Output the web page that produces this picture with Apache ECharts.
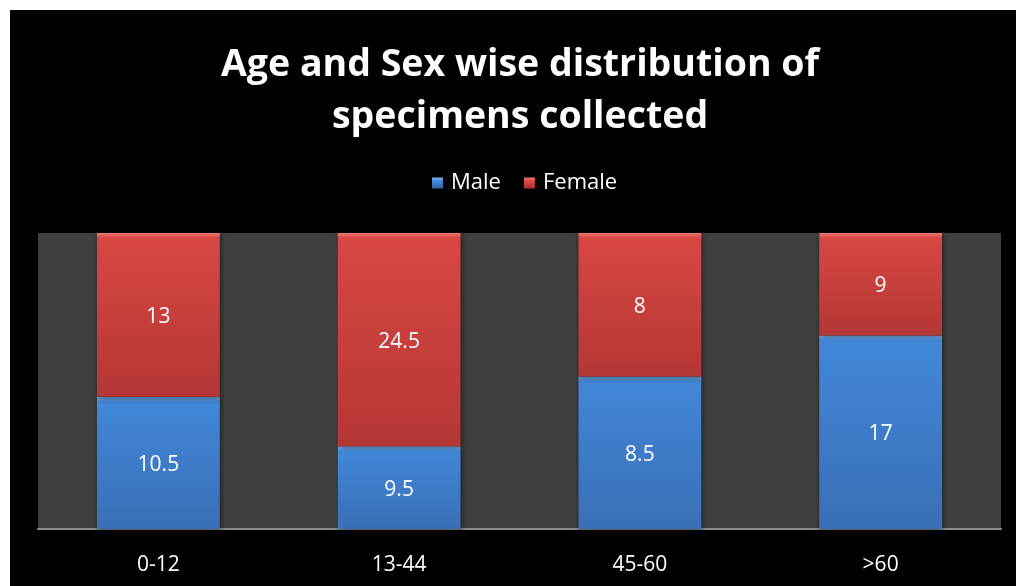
<!DOCTYPE html>
<html>
<head>
<meta charset="utf-8">
<script src="https://cdn.jsdelivr.net/npm/echarts@6/dist/echarts.min.js"></script>
<style>
  html, body { margin: 0; padding: 0; background: #ffffff; }
  #chart { position: absolute; left: 10px; top: 10px; width: 1006px; height: 576px; background: #000000; }
</style>
</head>
<body>
<div id="chart"></div>
<script>
// Age groups and counts per sex
const ageGroups = ['0-12', '13-44', '45-60', '>60'];
const maleValues = [10.5, 9.5, 8.5, 17];
const femaleValues = [13, 24.5, 8, 9];

const fontFamily = '"Open Sans", "Noto Sans", sans-serif';
const plotHeight = 296;

// Bevelled fill: a bright rim of a few pixels at the top, then a soft vertical shade
function bevelFill(share, rim, top, bottom) {
  const px = share / 100 * plotHeight;
  const b = Math.min(0.3, 5 / px);
  return new echarts.graphic.LinearGradient(0, 0, 0, 1, [
    { offset: 0, color: rim },
    { offset: b, color: top },
    { offset: 1, color: bottom }
  ]);
}

// Each column is shown as a 100% stack; labels keep the raw values
const totals = ageGroups.map((_, i) => maleValues[i] + femaleValues[i]);
function toShare(arr, rim, top, bottom) {
  return arr.map((v, i) => {
    const share = v / totals[i] * 100;
    return { value: share, raw: v, itemStyle: { color: bevelFill(share, rim, top, bottom) } };
  });
}

const barShadow = {
  shadowColor: 'rgba(0,0,0,0.55)',
  shadowBlur: 6,
  shadowOffsetX: 1,
  shadowOffsetY: 1
};

const labelStyle = {
  show: true,
  position: 'inside',
  offset: [0, 2],
  color: '#ffffff',
  fontFamily: fontFamily,
  fontSize: 21,
  formatter: (p) => p.data.raw
};

const chart = echarts.init(document.getElementById('chart'));
chart.setOption({
  backgroundColor: '#000000',
  animation: false,
  title: {
    text: 'Age and Sex wise distribution of\nspecimens collected',
    left: 505,
    textAlign: 'center',
    top: 24,
    textStyle: {
      color: '#ffffff',
      fontFamily: fontFamily,
      fontWeight: 'bold',
      fontSize: 37.5,
      lineHeight: 52
    }
  },
  legend: {
    top: 162,
    left: 422,
    padding: 0,
    itemWidth: 11,
    itemHeight: 11,
    itemGap: 23,
    icon: 'rect',
    textStyle: { color: '#ffffff', fontFamily: fontFamily, fontSize: 22, padding: [0, 0, 0, 3] },
    data: [
      { name: 'Male', itemStyle: { color: new echarts.graphic.LinearGradient(0, 0, 0, 1, [{ offset: 0, color: '#7ab4f0' }, { offset: 0.35, color: '#4186d8' }, { offset: 1, color: '#33649f' }]) } },
      { name: 'Female', itemStyle: { color: new echarts.graphic.LinearGradient(0, 0, 0, 1, [{ offset: 0, color: '#f07470' }, { offset: 0.35, color: '#d84644' }, { offset: 1, color: '#a83230' }]) } }
    ]
  },
  grid: {
    left: 28,
    right: 15,
    top: 223,
    bottom: 57,
    show: true,
    backgroundColor: '#404040',
    borderWidth: 0
  },
  xAxis: {
    type: 'category',
    data: ageGroups,
    axisLine: { show: true, lineStyle: { color: '#8c8c8c', width: 2 } },
    axisTick: { show: false },
    axisLabel: { color: '#ffffff', fontFamily: fontFamily, fontSize: 21, margin: 26 }
  },
  yAxis: {
    type: 'value',
    min: 0,
    max: 100,
    show: false,
    splitLine: { show: false }
  },
  series: [
    {
      name: 'Male',
      type: 'bar',
      stack: 'total',
      barWidth: '51%',
      data: toShare(maleValues, '#7ab4f0', '#4287d9', '#3a6fb6'),
      itemStyle: Object.assign({ color: '#3f7fcf' }, barShadow),
      label: labelStyle
    },
    {
      name: 'Female',
      type: 'bar',
      stack: 'total',
      barWidth: '51%',
      data: toShare(femaleValues, '#f07672', '#d84744', '#b43735'),
      itemStyle: Object.assign({ color: '#d54442' }, barShadow),
      label: labelStyle
    }
  ]
});
</script>
</body>
</html>
